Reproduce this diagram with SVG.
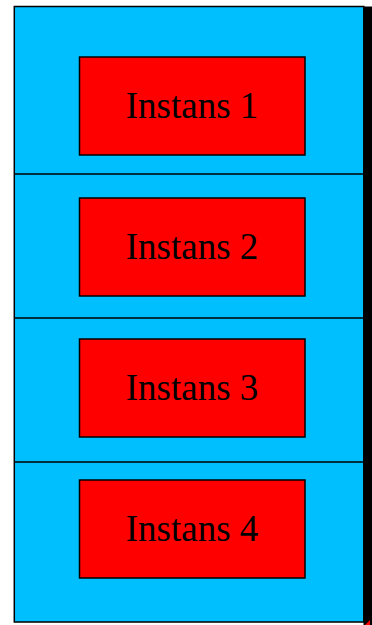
<svg xmlns="http://www.w3.org/2000/svg" width="372" height="625" viewBox="0 0 372 625">
<style>
.inst{fill:#ff0000;stroke:#000;stroke-width:1.5}
.lbl{font-family:"Liberation Serif","Times New Roman",serif;font-size:37px;fill:#000;text-anchor:middle}
.div{stroke:#000;stroke-width:1.5;fill:none}
</style>
<rect x="363.5" y="6.5" width="8.5" height="618.5" fill="#000"/>
<polygon points="365,625 370,620 370,625" fill="#ff0000"/>
<g id="container">
<rect x="14.3" y="6.5" width="349.5" height="615.5" fill="#00bfff" stroke="#000" stroke-width="1.5"/>
</g>
<g id="dividers">
<line class="div" x1="14.3" y1="174" x2="364" y2="174"/>
<line class="div" x1="14.3" y1="318" x2="364" y2="318"/>
<line class="div" x1="14.3" y1="462" x2="364" y2="462"/>
</g>
<g id="inst1"><rect class="inst" x="79.5" y="57" width="225.5" height="98"/><text class="lbl" x="192" y="118">Instans 1</text></g>
<g id="inst2"><rect class="inst" x="79.5" y="198" width="225.5" height="98"/><text class="lbl" x="192" y="259">Instans 2</text></g>
<g id="inst3"><rect class="inst" x="79.5" y="339" width="225.5" height="98"/><text class="lbl" x="192" y="400">Instans 3</text></g>
<g id="inst4"><rect class="inst" x="79.5" y="480" width="225.5" height="98"/><text class="lbl" x="192" y="541">Instans 4</text></g>
</svg>
